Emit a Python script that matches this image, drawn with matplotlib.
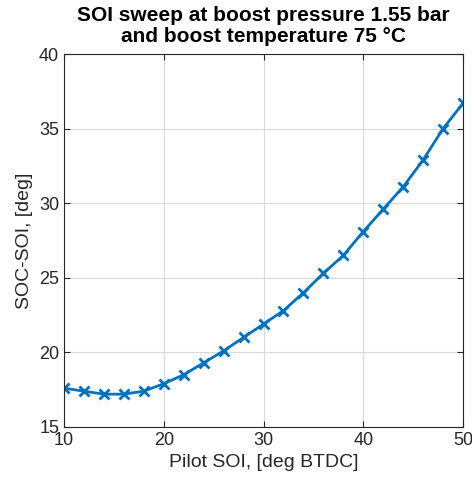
import matplotlib
matplotlib.use("Agg")
import matplotlib.pyplot as plt

# pilot SOI sweep
pilot_soi = [10, 12, 14, 16, 18, 20, 22, 24, 26, 28, 30, 32, 34, 36, 38, 40, 42, 44, 46, 48, 50]
soc_soi = [17.6, 17.4, 17.2, 17.2, 17.4, 17.9, 18.5, 19.3, 20.1, 21.0, 21.9,
           22.8, 24.0, 25.3, 26.5, 28.1, 29.6, 31.1, 32.9, 35.0, 36.7]

plt.rcParams['font.family'] = ['Liberation Sans', 'DejaVu Sans']

fig = plt.figure(figsize=(4.72, 4.84), dpi=100)
ax = fig.add_axes([0.1356, 0.1178, 0.8454, 0.7706])

ax.plot(pilot_soi, soc_soi, color='#0072BD', linewidth=2, marker='x',
        markersize=7, markeredgewidth=2)

ax.set_xlim(10, 50)
ax.set_ylim(15, 40)
ax.set_xticks([10, 20, 30, 40, 50])
ax.set_yticks([15, 20, 25, 30, 35, 40])
ax.grid(True, color='#d9d9d9', linewidth=0.8)
ax.set_axisbelow(True)
ax.tick_params(direction='in', top=True, right=True, labelsize=13, length=4,
               color='#262626', labelcolor='#262626')
for s in ax.spines.values():
    s.set_color('#262626')
    s.set_linewidth(0.8)

ax.set_xlabel("Pilot SOI, [deg BTDC]", fontsize=14, color='#262626')
ax.set_ylabel("SOC-SOI, [deg]", fontsize=14, color='#262626')
ax.set_title("SOI sweep at boost pressure 1.55 bar\nand boost temperature 75 °C",
             fontsize=15, fontweight='bold', linespacing=1.12, pad=9)

fig.savefig("out.png", dpi=100)
